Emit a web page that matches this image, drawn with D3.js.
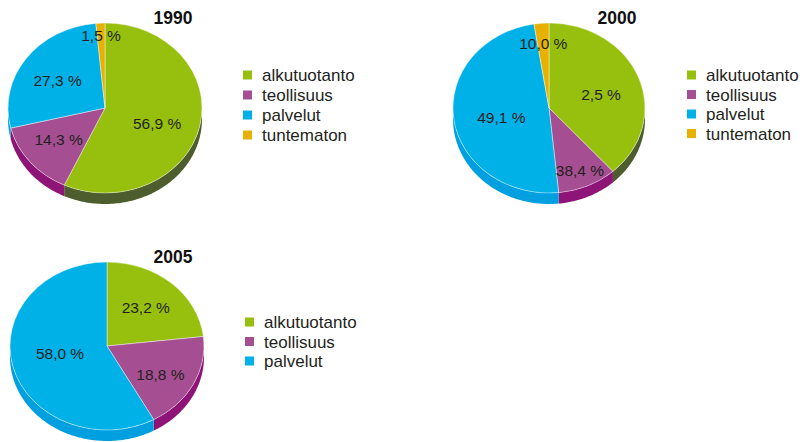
<!DOCTYPE html>
<html><head><meta charset="utf-8">
<script src="https://cdn.jsdelivr.net/npm/d3@7"></script>
<style>html,body{margin:0;padding:0;background:#fff;}svg{display:block;}</style>
</head><body>
<script>
const categories = ["alkutuotanto", "teollisuus", "palvelut", "tuntematon"];
const years = ["1990", "2000", "2005"];
const values1990 = [56.9, 14.3, 27.3, 1.5];
const values2000 = [38.4, 10.0, 49.1, 2.5];
const values2005 = [23.2, 18.8, 58.0];
// labels as printed on each slice in the source picture
const labels1990 = ["56,9 %", "14,3 %", "27,3 %", "1,5 %"];
const labels2000 = ["2,5 %", "38,4 %", "49,1 %", "10,0 %"];
const labels2005 = ["23,2 %", "18,8 %", "58,0 %"];

const topColors = ["#97bf0d", "#a54f92", "#00b1e8", "#e8b100"];
const sideColors = ["#4e5d2e", "#8f1478", "#009fe0", "#c99a00"];

const charts = [
  {year: years[0], values: values1990, labels: labels1990, cx: 105, cy: 108, rx: 97, ry: 85, depth: 11,
   labelR: [0.55, 0.62, 0.6, 0.86], labelDy: [5, -2, 2, 0],
   titleX: 173, titleY: 24, legX: 243, legY: 75, legStep: 20},
  {year: years[1], values: values2000, labels: labels2000, cx: 549, cy: 108, rx: 96, ry: 85, depth: 11,
   labelR: [0.58, 0.8, 0.5, 0.76], labelDy: [4, 0, 4, 0],
   titleX: 617, titleY: 24, legX: 687, legY: 75, legStep: 19.5},
  {year: years[2], values: values2005, labels: labels2005, cx: 107, cy: 346, rx: 97, ry: 84, depth: 11,
   labelR: [0.6, 0.62, 0.5], labelDy: [-1, 4, -3],
   titleX: 173, titleY: 263, legX: 245, legY: 322, legStep: 19.5}
];

const svg = d3.select("body").append("svg").attr("width", 806).attr("height", 442)
  .style("font-family", "'Liberation Sans', Arial, Helvetica, sans-serif");

const pie = d3.pie().sort(null).value(d => d);

function ellipsePts(c, a0, a1, dy) {
  const n = Math.max(2, Math.ceil((a1 - a0) / 0.02));
  const pts = [];
  for (let i = 0; i <= n; i++) {
    const a = a0 + (a1 - a0) * i / n;
    pts.push([c.cx + c.rx * Math.sin(a), c.cy - c.ry * Math.cos(a) + dy]);
  }
  return pts;
}

charts.forEach(c => {
  const g = svg.append("g");
  const arcs = pie(c.values);
  // side walls (front half: angles between PI/2 and 3PI/2)
  arcs.forEach((d, i) => {
    const a0 = Math.max(d.startAngle, Math.PI / 2);
    const a1 = Math.min(d.endAngle, 3 * Math.PI / 2);
    if (a1 <= a0) return;
    const top = ellipsePts(c, a0, a1, 0);
    const bot = ellipsePts(c, a0, a1, c.depth).reverse();
    g.append("path")
      .attr("d", d3.line()(top.concat(bot)) + "Z")
      .attr("fill", sideColors[i]);
  });
  // top face
  const arc = d3.arc().innerRadius(0).outerRadius(c.rx);
  const face = g.append("g").attr("transform", `translate(${c.cx},${c.cy}) scale(1,${c.ry / c.rx})`);
  face.selectAll("path").data(arcs).join("path")
    .attr("d", arc)
    .attr("fill", (d, i) => topColors[i])
    .attr("stroke", "#ffffff").attr("stroke-width", 0.6)
    .attr("vector-effect", "non-scaling-stroke")
    .attr("stroke-opacity", 0.7);
  // labels
  arcs.forEach((d, i) => {
    const m = (d.startAngle + d.endAngle) / 2;
    const r = c.labelR[i];
    g.append("text")
      .attr("x", c.cx + c.rx * r * Math.sin(m))
      .attr("y", c.cy - c.ry * r * Math.cos(m) + c.labelDy[i])
      .attr("dy", "0.36em")
      .attr("text-anchor", "middle")
      .attr("font-size", 15.5)
      .attr("fill", "#231f20")
      .text(c.labels[i]);
  });
  // title
  g.append("text").attr("x", c.titleX).attr("y", c.titleY)
    .attr("text-anchor", "middle").attr("font-size", 17.5).attr("font-weight", "bold")
    .attr("fill", "#111").text(c.year);
  // legend
  const leg = g.append("g");
  c.values.forEach((v, i) => {
    const y = c.legY + i * c.legStep;
    leg.append("rect").attr("x", c.legX).attr("y", y - 4.5).attr("width", 9).attr("height", 9)
      .attr("fill", topColors[i]);
    leg.append("text").attr("x", c.legX + 19).attr("y", y).attr("dy", "0.36em")
      .attr("font-size", 17).attr("fill", "#231f20").text(categories[i]);
  });
});
</script>
</body></html>
